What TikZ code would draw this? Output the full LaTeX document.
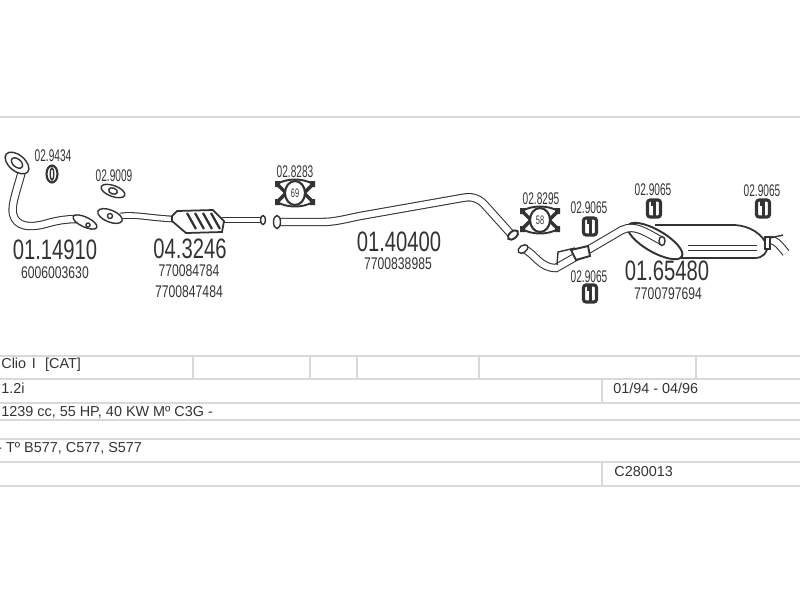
\documentclass[tikz,border=0pt]{standalone}
\usepackage{fontspec}
\setmainfont{Liberation Sans}
\newfontfamily\partfont[FakeStretch=0.72]{Liberation Sans}
\newfontfamily\smallfont[FakeStretch=0.6]{Liberation Sans}
\definecolor{inkgray}{HTML}{333333}
\definecolor{rulegray}{HTML}{D9D9D9}
\tikzset{
    part no/.style={font=\partfont\fontsize{16}{16}\selectfont,text=inkgray,inner sep=0pt},
    oem no/.style={font=\partfont\fontsize{9.6}{10}\selectfont,text=inkgray,inner sep=0pt},
    fit no/.style={font=\smallfont\fontsize{9.6}{10}\selectfont,text=inkgray,inner sep=0pt},
    size no/.style={font=\smallfont\fontsize{7}{7}\selectfont,text=inkgray,inner sep=0pt},
    row text/.style={font=\fontsize{8.2}{9}\selectfont,text=inkgray,inner sep=0pt,anchor=west},
    rule/.style={draw=rulegray,line width=1.1pt},
    pipe/.style={draw=inkgray,line width=0.6pt,double=white,double distance=3.6pt},
    thin pipe/.style={pipe,double distance=2.6pt},
    outline/.style={draw=inkgray,line width=0.8pt,fill=white},
    hanger/.pic={
        \draw[inkgray,line width=1.8pt,fill=white,rounded corners=1.5pt] (-6.5,9) rectangle (6.5,-8);
        \draw[inkgray,line width=1.4pt] (0.5,9) -- (0.5,-8);
        \fill[inkgray] (-3.5,-2) rectangle (-1.5,-8);
    },
    clamp/.pic={
        \draw[inkgray,line width=1.1pt] (-18,-9) .. controls (-8,-15) and (8,-15) .. (18,-9);
        \draw[inkgray,line width=1.1pt] (-18,9) .. controls (-8,15) and (8,15) .. (18,9);
        \draw[inkgray,line width=2pt] (-18,-9) -- (-9,0) -- (-18,9);
        \draw[inkgray,line width=2pt] (18,-9) -- (9,0) -- (18,9);
        \draw[inkgray,line width=1.2pt,fill=white] (0,0) ellipse (10 and 12);
        \fill[inkgray] (-20,-12) rectangle (-15,-6) (15,-12) rectangle (20,-6);
        \fill[inkgray] (-20,6) rectangle (-15,12) (15,6) rectangle (20,12);
    }
}
\begin{document}
\begin{tikzpicture}[x=0.02cm,y=-0.02cm]
    \useasboundingbox (0,0) rectangle (800,600);

    % Table rules
    \draw[rule] (0,117) -- (800,117);
    \foreach \ypos in {356,379,403,420,439,462,486}
        \draw[rule] (0,\ypos) -- (800,\ypos);
    \foreach \xpos in {193,310,357,479,696}
        \draw[rule] (\xpos,356) -- (\xpos,379);
    \draw[rule] (602,379) -- (602,403);
    \draw[rule] (602,462) -- (602,486);

    % Table texts
    \node[row text] (model) at (1,365) {Clio\hspace{1pt} I\hspace{3pt} [CAT]};
    \node[row text] (engine) at (1,388) {1.2i};
    \node[row text] (dates) at (613,388) {01/94 - 04/96};
    \node[row text] (power) at (1,412) {1239 cc, 55 HP, 40 KW M\textordmasculine{} C3G -};
    \node[row text] (types) at (-3,448) {- T\textordmasculine{} B577, C577, S577};
    \node[row text] (code) at (614,472) {C280013};

    % Front pipe
    \draw[pipe] (22,171) .. controls (17,190) and (11,205) .. (13,214)
        .. controls (16,227) and (30,228) .. (45,224) .. controls (55,221) and (65,219) .. (78,219);
    \draw[outline,rotate around={-40:(17,163)}] (17,163) ellipse (14 and 8);
    \draw[outline,rotate around={-40:(17,163)}] (17,163) ellipse (6.5 and 4);
    \draw[outline,rotate around={-25:(85,222)}] (85,222) ellipse (13 and 5);
    \draw[outline] (88,225) circle (2);
    \node[part no] (front no) at (55,250) {01.14910};
    \node[oem no] (front oem) at (55,273) {6006003630};

    % Small gaskets
    \draw[outline,line width=1.2pt] (52,174) ellipse (5.5 and 8.5);
    \draw[outline] (52,174) ellipse (1.8 and 6);
    \node[fit no] (ring no) at (53,156) {02.9434};
    \draw[outline,rotate around={-20:(113,191)}] (113,191) ellipse (12.5 and 5.5);
    \draw[outline,rotate around={-20:(113,191)}] (113,191) ellipse (4.5 and 3);
    \node[fit no] (gasket no) at (114,176) {02.9009};

    % Catalyst
    \draw[thin pipe] (120,216) .. controls (135,214) and (150,218) .. (173,219);
    \draw[outline,rotate around={-22:(110,216)}] (110,216) ellipse (13 and 6);
    \draw[outline] (110,216) circle (2.5);
    \draw[thin pipe] (222,220) -- (262,220);
    \draw[outline] (263,220) ellipse (2.5 and 4.5);
    \draw[outline,line width=1pt] (172,216) -- (177,211) -- (213,210) -- (224,221) -- (222,232)
        -- (186,233) -- (172,221) -- cycle;
    \foreach \xpos in {187,195,203,211}
        \draw[inkgray,line width=1.3pt] (\xpos,213) -- (\xpos+9,229);
    \node[part no] (cat no) at (190,249) {04.3246};
    \node[oem no] (cat oem a) at (189,271) {770084784};
    \node[oem no] (cat oem b) at (189,292) {7700847484};

    % Middle pipe
    \draw[pipe] (278,222) -- (322,222) .. controls (335,222) and (345,219) .. (360,216)
        -- (462,198) .. controls (472,196) and (478,198) .. (484,204) -- (511,234);
    \draw[outline] (277,222) ellipse (3.5 and 6.5);
    \draw[outline,line width=1.1pt,rotate around={40:(513,235)}] (513,235) ellipse (6 and 3.5);
    \pic (clamp front) at (295,193) {clamp};
    \node[size no] (clamp front size) at (295,193) {69};
    \node[fit no] (clamp front no) at (295,172) {02.8283};
    \node[part no] (middle no) at (399,242) {01.40400};
    \node[oem no] (middle oem) at (398,264) {7700838985};

    % Rear silencer
    \draw[outline,line width=1pt] (655,225) -- (735,225) .. controls (750,226) and (763,234) .. (767,246)
        .. controls (768,252) and (763,258) .. (755,258) -- (672,258);
    \draw[outline,line width=1.1pt,rotate around={-30:(655,241)}] (655,241) ellipse (31 and 11);
    \draw[thin pipe] (688,248) -- (757,248);
    \draw[pipe] (524,249) .. controls (535,254) and (540,268) .. (556,268) -- (593,247) -- (622,230)
        .. controls (635,224) and (645,232) .. (662,241);
    \draw[outline] (662,241) ellipse (3 and 4.5);
    \draw[outline,rotate around={35:(523,249)}] (523,249) ellipse (5.5 and 3.5);
    \draw[inkgray,line width=0.8pt] (557,265) -- (558,252) -- (575,248);
    \draw[outline,line width=1.1pt] (571,250) -- (588,246) -- (590,256) -- (576,260) -- cycle;
    \draw[pipe] (770,240) .. controls (775,240) and (778,243) .. (786,253);
    \draw[inkgray,line width=0.8pt] (770,238) -- (783,235);
    \draw[outline,line width=1pt] (765,237) rectangle (770,249);
    \pic (clamp rear) at (540,220) {clamp};
    \node[size no] (clamp rear size) at (540,220) {58};
    \node[fit no] (clamp rear no) at (541,199) {02.8295};
    \node[part no] (rear no) at (667,271) {01.65480};
    \node[oem no] (rear oem) at (668,294) {7700797694};

    % Rubber hangers
    \pic (hanger a) at (590,226) {hanger};
    \node[fit no] (hanger a no) at (589,208) {02.9065};
    \pic (hanger b) at (654,208) {hanger};
    \node[fit no] (hanger b no) at (653,190) {02.9065};
    \pic (hanger c) at (763,208) {hanger};
    \node[fit no] (hanger c no) at (762,191) {02.9065};
    \pic (hanger d) at (590,293) {hanger};
    \node[fit no] (hanger d no) at (589,277) {02.9065};
\end{tikzpicture}
\end{document}
